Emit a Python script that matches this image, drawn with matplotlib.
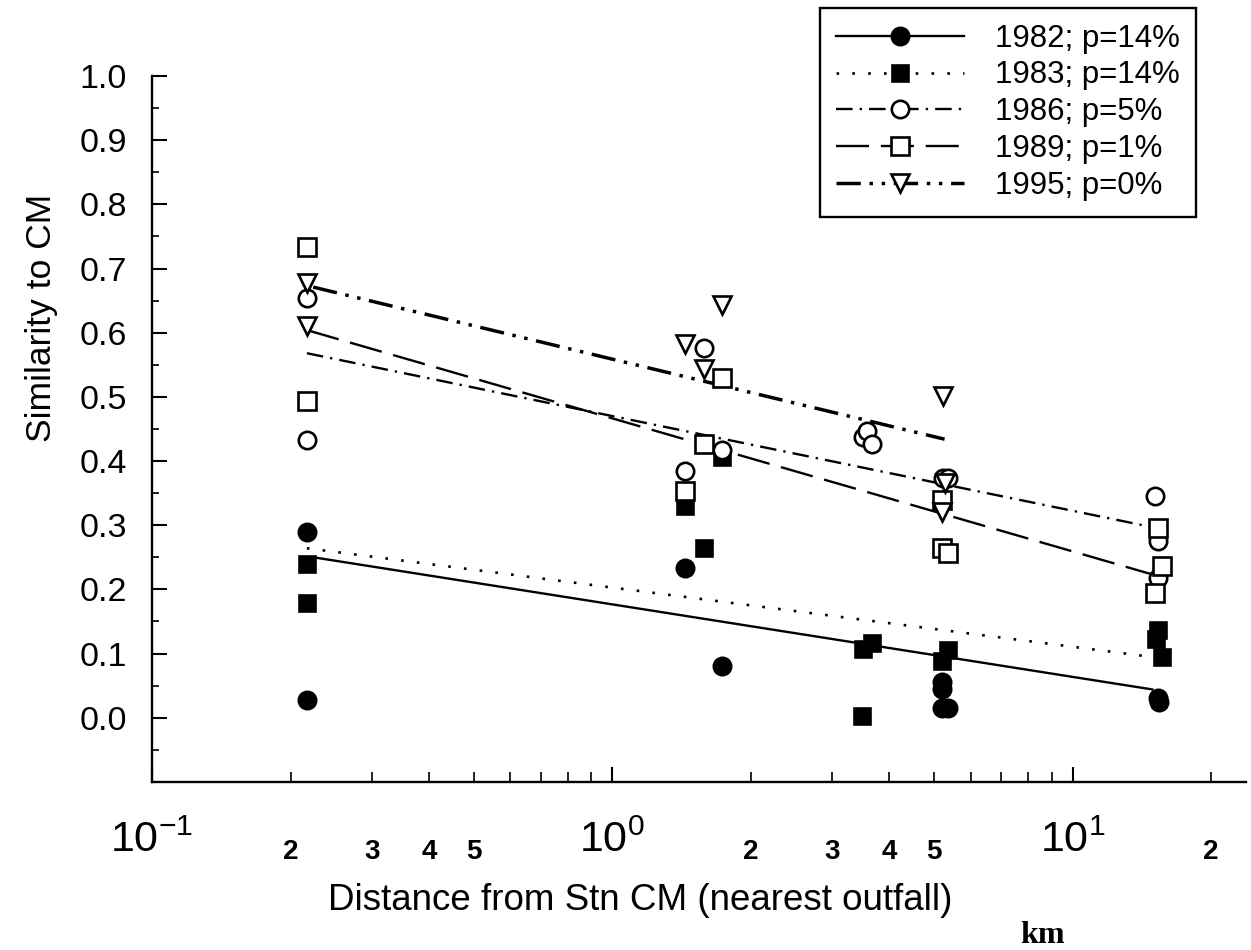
import numpy as np
import matplotlib.pyplot as plt
from matplotlib.ticker import FixedLocator, FuncFormatter
from matplotlib.lines import Line2D

plt.rcParams['font.family'] = ['Liberation Sans', 'DejaVu Sans']
plt.rcParams['mathtext.fontset'] = 'custom'
plt.rcParams['mathtext.rm'] = 'Liberation Sans'
plt.rcParams['mathtext.it'] = 'Liberation Sans'

# ── Data (x in km, y = similarity) ─────────────────────────────────────────
x_1982 = [0.217, 0.217, 1.44, 1.73, 5.2, 5.2, 5.2, 5.35, 15.3, 15.4]
y_1982 = [0.289, 0.027, 0.234, 0.081, 0.055, 0.045, 0.015, 0.015, 0.031, 0.025]

x_1983 = [0.217, 0.217, 1.44, 1.58, 1.73, 3.48, 3.50, 3.67, 5.2, 5.35, 15.2, 15.3, 15.6]
y_1983 = [0.240, 0.178, 0.330, 0.264, 0.406, 0.003, 0.107, 0.116, 0.088, 0.105, 0.123, 0.136, 0.094]

x_1986 = [0.217, 0.217, 1.44, 1.58, 1.73, 3.50, 3.57, 3.67, 5.22, 5.35, 15.07, 15.3, 15.3]
y_1986 = [0.654, 0.432, 0.384, 0.576, 0.417, 0.437, 0.447, 0.426, 0.374, 0.374, 0.346, 0.276, 0.217]

x_1989 = [0.217, 0.217, 1.44, 1.58, 1.73, 5.2, 5.2, 5.35, 15.3, 15.6, 15.07]
y_1989 = [0.733, 0.494, 0.354, 0.427, 0.529, 0.339, 0.264, 0.257, 0.296, 0.237, 0.195]

x_1995 = [0.217, 0.217, 1.44, 1.58, 1.73, 5.22, 5.29, 5.2]
y_1995 = [0.677, 0.611, 0.583, 0.543, 0.643, 0.502, 0.365, 0.320]

# regression lines (end points as drawn)
fit_x_1982, fit_y_1982 = [0.224, 14.9], [0.250, 0.044]
fit_x_1983, fit_y_1983 = [0.217, 15.1], [0.264, 0.094]
fit_x_1986, fit_y_1986 = [0.217, 15.1], [0.568, 0.296]
fit_x_1989, fit_y_1989 = [0.217, 15.1], [0.604, 0.222]
fit_x_1995, fit_y_1995 = [0.224, 5.27], [0.671, 0.434]

labels = ["1982; p=14%", "1983; p=14%", "1986; p=5%", "1989; p=1%", "1995; p=0%"]

major_x = [0.1, 1, 10]
major_x_labels = [r"$10^{-1}$", r"$10^{0}$", r"$10^{1}$"]
labelled_minor = [2, 3, 4, 5]

# ── Styles ─────────────────────────────────────────────────────────────────
styles = [
    dict(ls='-', lw=1.7, marker='o', mfc='black', ms=12.5),
    dict(ls=(0, (1, 5)), lw=1.9, marker='s', mfc='black', ms=11.5),
    dict(ls=(0, (7, 3, 1, 3)), lw=1.7, marker='o', mfc='white', ms=12.5),
    dict(ls=(0, (14, 5)), lw=1.7, marker='s', mfc='white', ms=12.5),
    dict(ls=(0, (7, 2.5, 1, 2.5, 1, 2.5)), lw=2.5, marker='v', mfc='white', ms=13.5),
]
points = [(x_1982, y_1982), (x_1983, y_1983), (x_1986, y_1986),
          (x_1989, y_1989), (x_1995, y_1995)]
fits = [(fit_x_1982, fit_y_1982), (fit_x_1983, fit_y_1983), (fit_x_1986, fit_y_1986),
        (fit_x_1989, fit_y_1989), (fit_x_1995, fit_y_1995)]

fig = plt.figure(figsize=(12.51, 9.5), dpi=100)
ax = fig.add_axes([0.1215, 0.177, 0.8745, 0.743])

handles = []
for (px, py), (fx, fy), st in zip(points, fits, styles):
    ax.plot(fx, fy, color='black', ls=st['ls'], lw=st['lw'], zorder=2)
    ax.plot(px, py, ls='none', marker=st['marker'], mfc=st['mfc'], mec='black',
            mew=1.9, ms=st['ms'], zorder=3, clip_on=False)
    handles.append(Line2D([], [], color='black', ls=st['ls'], lw=st['lw'],
                          marker=st['marker'], mfc=st['mfc'], mec='black',
                          mew=1.9, ms=st['ms']))

ax.set_xscale('log')
ax.set_xlim(0.1, 23.8)
ax.set_ylim(-0.1, 1.0)

for s in ['top', 'right']:
    ax.spines[s].set_visible(False)
for s in ['left', 'bottom']:
    ax.spines[s].set_linewidth(1.7)

ax.yaxis.set_major_locator(FixedLocator(np.round(np.arange(0, 1.01, 0.1), 1)))
ax.yaxis.set_minor_locator(FixedLocator(np.round(np.arange(-0.05, 1.0, 0.1), 2)))
ax.yaxis.set_major_formatter(FuncFormatter(lambda v, p: f"{v:.1f}"))
ax.tick_params(axis='y', which='major', direction='in', length=11, width=1.5,
               labelsize=24.5, pad=18)
ax.tick_params(axis='y', which='minor', direction='in', length=5, width=1.2)

minor_x = [m * d for d in [0.1, 1, 10] for m in range(2, 10) if m * d < 23.8]
ax.xaxis.set_major_locator(FixedLocator(major_x))
ax.xaxis.set_major_formatter(FuncFormatter(
    lambda v, p: major_x_labels[major_x.index(v)] if v in major_x else ""))
ax.xaxis.set_minor_locator(FixedLocator(minor_x))


def minor_fmt(v, pos):
    m = int(round(v / 10 ** np.floor(np.log10(v) + 1e-9)))
    return f"{m}" if m in labelled_minor else ""


ax.xaxis.set_minor_formatter(FuncFormatter(minor_fmt))
ax.tick_params(axis='x', which='major', direction='in', length=11, width=1.5,
               labelsize=31, pad=28)
ax.tick_params(axis='x', which='minor', direction='in', length=7, width=1.2,
               labelsize=20, pad=41)
for t in ax.xaxis.get_minorticklabels():
    t.set_fontweight('bold')

fig.text(0.033, 0.665, "Similarity to CM", rotation=90, fontsize=25.5,
         ha='center', va='center')
fig.text(0.512, 0.052, "Distance from Stn CM (nearest outfall)", fontsize=26.5,
         ha='center', va='center')
fig.text(0.833, 0.015, "km", fontsize=23, fontweight='bold',
         family=['Liberation Serif', 'DejaVu Serif'], ha='center', va='center')

leg = fig.legend(handles, labels, loc='upper left',
                 bbox_to_anchor=(820 / 1251, 1 - 8 / 950), borderaxespad=0,
                 fontsize=22.5, numpoints=1, handlelength=4.1, handletextpad=1.0,
                 labelspacing=0.22, borderpad=0.5, fancybox=False,
                 edgecolor='black', framealpha=1)
leg.get_frame().set_linewidth(1.7)

fig.savefig("out.png", dpi=100)
